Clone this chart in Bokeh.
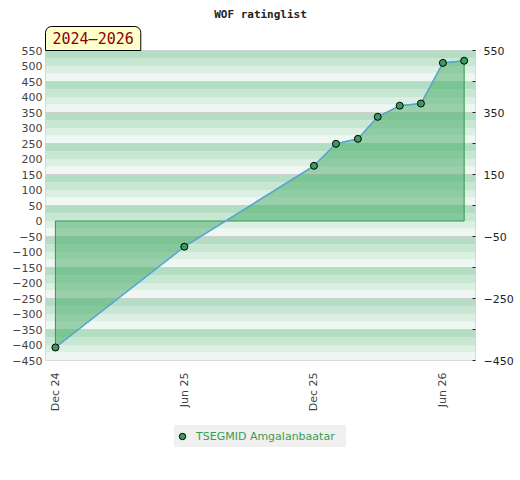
import math
import numpy as np
import pandas as pd
from bokeh.plotting import figure
from bokeh.layouts import column
from bokeh.models import (Range1d, FixedTicker, LinearAxis, DatetimeTickFormatter,
                          Title, Legend, LegendItem)
from bokeh.embed import file_html
from bokeh.resources import INLINE

# ---- data ----
title_text = "WOF ratinglist"
period_text = "2024\u20132026"
player = "TSEGMID Amgalanbaatar"
dates = ["2024-12-01", "2025-06-01", "2025-12-01", "2026-01-01", "2026-02-01",
         "2026-03-01", "2026-04-01", "2026-05-01", "2026-06-01", "2026-07-01"]
values = [-408, -83, 178, 249, 265, 336, 372, 379, 510, 517]
x_tick_dates = ["2024-12-01", "2025-06-01", "2025-12-01", "2026-06-01"]
left_ticks = list(range(-450, 551, 50))
right_label_ticks = [550, 350, 150, -50, -250, -450]
right_minor_ticks = [450, 250, 50, -150, -350]
y_min, y_max = -450, 550
x_start, x_end = "2024-11-17", "2026-07-17"

dt = pd.to_datetime(dates)
dt_ms = [d.value / 1e6 for d in dt]
xt_ms = [d.value / 1e6 for d in pd.to_datetime(x_tick_dates)]

FW, FH = 430, 310
p = figure(x_axis_type="datetime", width=520, height=418,
           frame_width=FW, frame_height=FH,
           min_border_left=45, min_border_right=45, min_border_top=50, min_border_bottom=58,
           x_range=Range1d(pd.Timestamp(x_start), pd.Timestamp(x_end)),
           y_range=Range1d(y_min, y_max),
           output_backend="svg", toolbar_location=None)
p.background_fill_color = "white"
p.border_fill_color = "white"
p.outline_line_color = "#d2d2d2"
p.outline_line_width = 1

# background stripes
stripe_colors = ["#eff7f2", "#dbefe2", "#c7e7d3", "#b3dec4"]
bottoms = np.arange(y_min, y_max, 25)
cols = [stripe_colors[int(((b - y_min) % 100) // 25)] for b in bottoms]
p.hstrip(y0=bottoms, y1=bottoms + 25, fill_color=cols, line_color=None, level="image")

# grid
p.xgrid.visible = False
p.ygrid.ticker = FixedTicker(ticks=right_minor_ticks + [350, 150, -50, -250])
p.ygrid.grid_line_color = "#d0d0d0"
p.ygrid.grid_line_width = 1

# area
marker_style = dict(size=7, fill_color="#3a9d5d", line_color="black", line_width=1)
px = [dt_ms[0]] + dt_ms + [dt_ms[-1]]
py = [0] + values + [0]
p.patch(px, py, fill_color="#43a964", fill_alpha=0.5, line_color="#2e9a4e", line_width=1)
p.line(dt_ms, values, line_color="#5aa5d8", line_width=1.5)
p.scatter(dt_ms, values, **marker_style)

# axes
xa = p.xaxis[0]
xa.ticker = FixedTicker(ticks=xt_ms)
xa.formatter = DatetimeTickFormatter(days="%b %y", months="%b %y", years="%b %y")
xa.major_label_orientation = math.pi / 2
xa.axis_line_color = None
xa.major_tick_line_color = None
xa.minor_tick_line_color = None
xa.major_tick_out = 0
xa.major_tick_in = 0
xa.minor_tick_out = 0
xa.minor_tick_in = 0
xa.major_label_standoff = 12
xa.axis_label_standoff = 0
xa.major_label_text_font = "DejaVu Sans"
xa.major_label_text_font_size = "11px"
xa.major_label_text_color = "#444444"

ya = p.yaxis[0]
ya.ticker = FixedTicker(ticks=left_ticks)
ya.axis_line_color = None
ya.major_tick_line_color = None
ya.minor_tick_line_color = None
ya.major_tick_out = 0
ya.major_label_standoff = 3
ya.major_label_text_font = "DejaVu Sans"
ya.major_label_text_font_size = "11px"
ya.major_label_text_color = "#444444"

ra = LinearAxis(ticker=FixedTicker(ticks=right_label_ticks, minor_ticks=right_minor_ticks))
ra.axis_line_color = None
ra.major_tick_line_color = "#222222"
ra.major_tick_in = 3
ra.major_tick_out = 0
ra.minor_tick_line_color = "#222222"
ra.minor_tick_in = 3
ra.minor_tick_out = 0
ra.major_label_standoff = 8
ra.major_label_text_font = "DejaVu Sans"
ra.major_label_text_font_size = "11px"
ra.major_label_text_color = "#222222"
p.add_layout(ra, "right")

# period box (closest to frame) and main title (outer)
p.add_layout(Title(text=period_text, align="left", offset=0, standoff=0,
                   text_font="DejaVu Sans Mono", text_font_style="normal",
                   text_font_size="15px", text_color="#8b0000",
                   background_fill_color="#ffffcc", border_line_color="black",
                   border_line_width=1, padding=(7, 3), border_radius=(6, 6, 0, 0)), "above")
p.add_layout(Title(text=title_text, align="center", standoff=7,
                   text_font="DejaVu Sans Mono", text_font_style="bold",
                   text_font_size="11px", text_color="#222222"), "above")

# legend strip below the chart (key renderer uses the same data; it lies outside this strip's ranges)
lg = figure(width=520, height=62, x_axis_type=None, y_axis_type=None,
            x_range=Range1d(0, 1), y_range=Range1d(0, 1),
            min_border_left=0, min_border_right=0, min_border_top=0, min_border_bottom=0,
            output_backend="svg", toolbar_location=None)
lg.outline_line_color = None
lg.grid.visible = False
key = lg.scatter(dt_ms, values, **marker_style)
legend = Legend(items=[LegendItem(label=player, renderers=[key])],
                location="top", orientation="horizontal",
                background_fill_color="#f0f0f0", background_fill_alpha=1,
                border_line_color=None,
                label_text_color="#3a9d50", label_text_font="DejaVu Sans",
                label_text_font_size="11px",
                glyph_width=16, glyph_height=22, label_height=22, label_width=150,
                label_standoff=6, padding=0, margin=7)
lg.add_layout(legend, "center")

open("out.html", "w").write(file_html(column(p, lg, spacing=0), INLINE))
